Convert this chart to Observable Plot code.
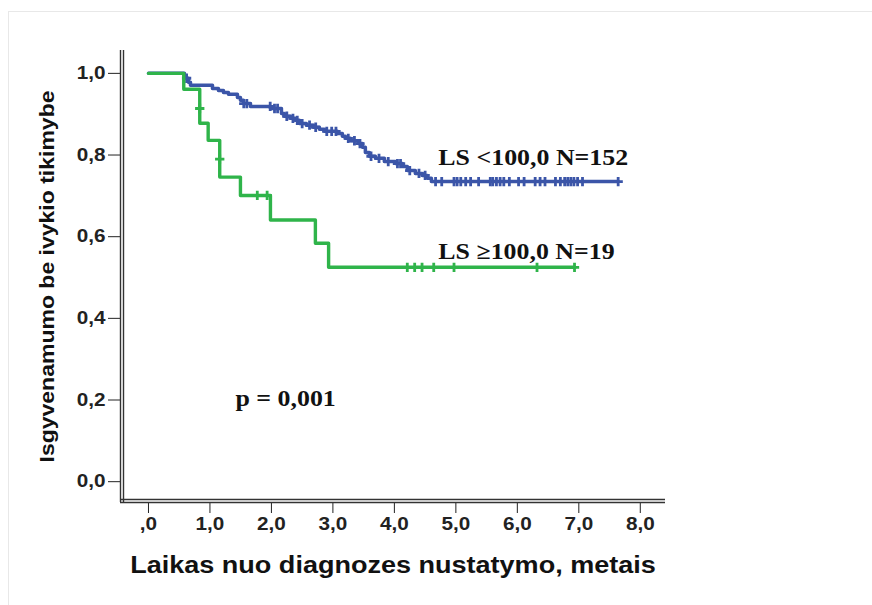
<!DOCTYPE html>
<html><head><meta charset="utf-8">
<script src="https://cdn.jsdelivr.net/npm/d3@7"></script>
<script src="https://cdn.jsdelivr.net/npm/@observablehq/plot@0.6"></script>
<style>
body{margin:0;background:#fff}
#wrap{position:relative;width:872px;height:605px;overflow:hidden}
#frame{position:absolute;left:8px;top:11px;right:-2px;bottom:-2px;border-top:1px solid #e8e8e8;border-left:1px solid #e8e8e8}
#chart{position:absolute;left:0;top:0}
</style></head>
<body><div id="wrap"><div id="frame"></div><div id="chart"></div></div>
<script>
// tick values and labels
const xTicks = [0, 1, 2, 3, 4, 5, 6, 7, 8];
const xTickLabels = [",0", "1,0", "2,0", "3,0", "4,0", "5,0", "6,0", "7,0", "8,0"];
const yTicks = [0, 0.2, 0.4, 0.6, 0.8, 1.0];
const yTickLabels = ["0,0", "0,2", "0,4", "0,6", "0,8", "1,0"];
const xTitle = "Laikas nuo diagnozes nustatymo, metais";
const yTitle = "Isgyvenamumo be ivykio tikimybe";

// Group LS <100,0 (N=152): step times and survival
const blueTimes = [0, 0.585, 0.650, 0.683, 1.041, 1.138, 1.220, 1.301, 1.447, 1.496, 1.545, 1.659, 1.984, 2.163, 2.211, 2.309, 2.390, 2.455, 2.569, 2.683, 2.780, 2.862, 3.073, 3.154, 3.203, 3.285, 3.415, 3.480, 3.528, 3.593, 3.691, 3.837, 4.016, 4.130, 4.211, 4.341, 4.455, 4.537, 4.602, 7.64];
const blueSurv  = [1.0, 0.988, 0.978, 0.971, 0.963, 0.958, 0.953, 0.949, 0.941, 0.934, 0.926, 0.919, 0.914, 0.902, 0.895, 0.890, 0.885, 0.877, 0.873, 0.868, 0.863, 0.858, 0.853, 0.846, 0.841, 0.835, 0.828, 0.819, 0.806, 0.797, 0.792, 0.784, 0.779, 0.772, 0.762, 0.755, 0.750, 0.743, 0.735, 0.735];
const blueCensorTimes = [0.62, 1.55, 1.60, 1.98, 2.05, 2.10, 2.25, 2.35, 2.42, 2.50, 2.62, 2.72, 2.90, 2.98, 3.05, 3.25, 3.35, 3.44, 3.62, 3.75, 3.90, 4.05, 4.10, 4.25, 4.40, 4.50, 4.67, 4.77, 4.97, 5.02, 5.08, 5.16, 5.24, 5.37, 5.56, 5.60, 5.66, 5.72, 5.78, 5.87, 6.02, 6.11, 6.29, 6.37, 6.45, 6.62, 6.70, 6.77, 6.82, 6.87, 6.92, 6.98, 7.06, 7.64];

// Group LS >=100,0 (N=19)
const greenTimes = [0, 0.574, 0.834, 0.971, 1.159, 1.496, 1.984, 2.715, 2.93, 6.94];
const greenSurv  = [1.0, 0.961, 0.878, 0.836, 0.746, 0.701, 0.641, 0.584, 0.525, 0.525];
const greenCensorTimes = [0.834, 1.159, 1.77, 1.93, 4.21, 4.33, 4.45, 4.64, 4.97, 6.32, 6.93];
const greenCensorSurv  = [0.914, 0.79, 0.701, 0.701, 0.525, 0.525, 0.525, 0.525, 0.525, 0.525, 0.525];

// annotations
const annTexts = ["LS <100,0 N=152", "LS \u2265100,0 N=19", "p = 0,001"];
const annX = [4.715, 4.715, 1.415];
const annY = [0.792, 0.564, 0.203];

const blueColor = "#3b55a8";
const greenColor = "#2fb44a";
const xDomain = [-0.455, 8.41];
const yDomain = [-0.051, 1.056];

const blue = blueTimes.map((t, i) => ({t, s: blueSurv[i]}));
const green = greenTimes.map((t, i) => ({t, s: greenSurv[i]}));
function survAt(times, surv, t) {
  let s = surv[0];
  for (let i = 0; i < times.length; i++) if (times[i] <= t) s = surv[i];
  return s;
}
const blueCens = blueCensorTimes.map(t => ({t, s: survAt(blueTimes, blueSurv, t)}));
const greenCens = greenCensorTimes.map((t, i) => ({t, s: greenCensorSurv[i]}));
const ann = annTexts.map((text, i) => ({text, x: annX[i], y: annY[i]}));

const axisColor = "#333";
const serif = "'Liberation Serif','Times New Roman',serif";
const sans = "'Liberation Sans',Arial,sans-serif";

const chart = Plot.plot({
  width: 872, height: 605,
  marginLeft: 120, marginRight: 207, marginTop: 50, marginBottom: 103,
  x: {domain: xDomain, ticks: xTicks, tickFormat: d => xTickLabels[xTicks.indexOf(d)], tickSize: 11, tickPadding: 4, label: null},
  y: {domain: yDomain, ticks: yTicks, tickFormat: d => yTickLabels[yTicks.indexOf(d)], tickSize: 12, tickPadding: 3, label: null},
  style: {fontFamily: sans, fontSize: "18px", fontWeight: "bold", color: "#222", background: "transparent", overflow: "visible"},
  marks: [
    Plot.ruleX([xDomain[0]], {y1: yDomain[0], y2: yDomain[1], stroke: axisColor, strokeWidth: 1.4}),
    Plot.ruleX([xDomain[0]], {y1: yDomain[0], y2: yDomain[1], stroke: axisColor, strokeWidth: 1.4, dx: 3}),
    Plot.ruleY([yDomain[0]], {x1: xDomain[0], x2: xDomain[1], stroke: axisColor, strokeWidth: 1.4}),
    Plot.ruleY([yDomain[0]], {x1: xDomain[0], x2: xDomain[1], stroke: axisColor, strokeWidth: 1.4, dy: -3}),
    Plot.line(blue, {x: "t", y: "s", curve: "step-after", stroke: blueColor, strokeWidth: 3.5}),
    Plot.dot(blueCens, {x: "t", y: "s", symbol: "plus", r: 3.1, stroke: blueColor, strokeWidth: 2.8}),
    Plot.line(green, {x: "t", y: "s", curve: "step-after", stroke: greenColor, strokeWidth: 3.4}),
    Plot.dot(greenCens, {x: "t", y: "s", symbol: "plus", r: 3.1, stroke: greenColor, strokeWidth: 2.8}),
    Plot.text(ann, {x: "x", y: "y", text: "text", textAnchor: "start", lineAnchor: "middle", fontFamily: serif, fontSize: 22.5, fontWeight: "bold", fill: "#111"}),
    Plot.text([xTitle], {frameAnchor: "bottom", textAnchor: "middle", dy: 63, lineAnchor: "middle", fontFamily: sans, fontSize: 23.5, fontWeight: "bold", fill: "#111"}),
    Plot.text([yTitle], {frameAnchor: "left", textAnchor: "middle", dx: -73, rotate: -90, lineAnchor: "middle", fontFamily: sans, fontSize: 20, fontWeight: "bold", fill: "#111"})
  ]
});
document.getElementById("chart").appendChild(chart);
// horizontal stretch of the glyphs, as in the reference export
chart.querySelectorAll("text").forEach(el => {
  const w = el.getComputedTextLength();
  if (w > 0) {
    el.setAttribute("textLength", (w * 1.15).toFixed(1));
    el.setAttribute("lengthAdjust", "spacingAndGlyphs");
  }
});
</script>
</body></html>
